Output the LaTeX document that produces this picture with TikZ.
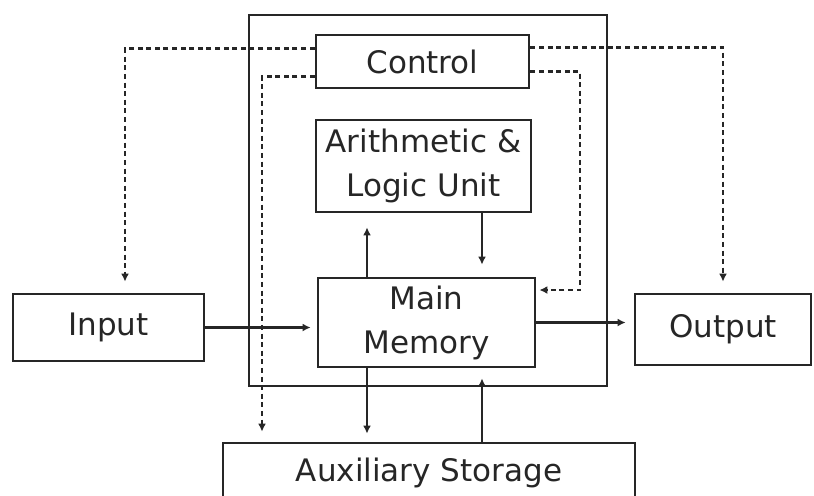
\documentclass[tikz,border=0pt]{standalone}
\usepackage{fontspec}
\setmainfont{DejaVu Sans}
\usetikzlibrary{arrows.meta}

\begin{document}
\begin{tikzpicture}[x=0.5pt, y=-0.5pt, line width=1.4pt, color=black!85,
		box/.style={draw, rectangle, align=center, inner sep=0pt, font=\fontsize{15.5}{22}\selectfont, text=black!85},
		flow/.style={-{Latex[length=4pt, width=4pt]}},
		ctrl/.style={-{Latex[length=4pt, width=4pt]}, dash pattern=on 2.5pt off 1.8pt}]
		\useasboundingbox (0,0) rectangle (814,495);
		\clip (0,0) rectangle (814,495);

		\coordinate (la) at (367,0);
		\coordinate (ra) at (482,0);
		\coordinate (lo) at (125,0);
		\coordinate (li) at (262,0);
		\coordinate (ri) at (580,290);

		\draw (249,15) rectangle (607,386);

		\node[box, minimum width=106.5pt, minimum height=26.5pt] (control) at (422.5,61.5) {Control};
		\node[box, minimum width=107.5pt, minimum height=46pt] (alu) at (423.5,166) {Arithmetic \&\\Logic Unit};
		\node[box, minimum width=108.5pt, minimum height=44.5pt] (mem) at (426.5,322.5) {Main\\Memory};
		\node[box, minimum width=95.5pt, minimum height=33.5pt] (input) at (108.5,327.5) {Input};
		\node[box, minimum width=88pt, minimum height=35.5pt] (output) at (723,329.5) {Output};
		\node[box, minimum width=206pt, minimum height=30pt] (aux) at (429,473) {Auxiliary Storage};

		\draw[flow, shorten >=3pt] (input.east) -- (input.east -| mem.west);
		\draw[flow, shorten >=4pt] (mem.east) -- (mem.east -| output.west);
		\draw[flow, shorten >=7pt] (mem.north -| la) -- (alu.south -| la);
		\draw[flow, shorten >=6pt] (alu.south -| ra) -- (mem.north -| ra);
		\draw[flow, shorten >=4pt] (mem.south -| la) -- (aux.north -| la);
		\draw[flow, shorten >=5pt] (aux.north -| ra) -- (mem.south -| ra);

		\draw[ctrl, shorten >=5.5pt] ([yshift=6.5pt]control.west) -| (input.north -| lo);
		\draw[ctrl, shorten >=5pt] ([yshift=-7.5pt]control.west) -| (aux.north -| li);
		\draw[ctrl, shorten >=5.5pt] ([yshift=7pt]control.east) -| (output.north);
		\draw[ctrl, shorten >=1.5pt] ([yshift=-5pt]control.east) -| (ri) -- (ri -| mem.east);
	\end{tikzpicture}
\end{document}
